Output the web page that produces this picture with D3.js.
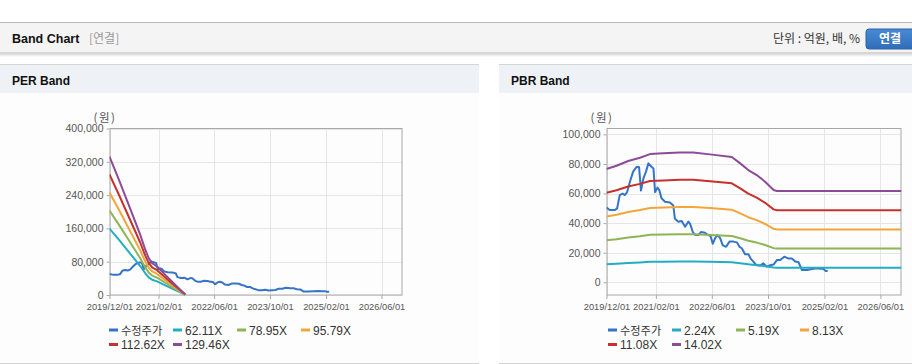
<!DOCTYPE html>
<html>
<head>
<meta charset="utf-8">
<script src="https://cdn.jsdelivr.net/npm/d3@7"></script>
<style>
  body { margin: 0; background: #fff; }
  svg { display: block; font-family: "Liberation Sans", Arial, "Noto Sans CJK KR", sans-serif; }
</style>
</head>
<body>
<svg id="page" width="912" height="364"></svg>
<script>
// 수정주가 (adjusted price)
const priceDates = ["2019-12-01","2019-12-29","2020-02-12","2020-03-02","2020-03-25","2020-04-18","2020-05-08","2020-05-28",
  "2020-06-21","2020-07-19","2020-08-18","2020-09-08","2020-09-25","2020-10-15","2020-11-08","2020-11-28","2020-12-27",
  "2021-01-11","2021-01-25","2021-02-15","2021-03-02","2021-03-22","2021-04-21","2021-06-03","2021-07-02","2021-07-16",
  "2021-08-15","2021-09-13","2021-10-12","2021-11-10","2021-11-25","2021-12-18","2022-01-07","2022-02-06","2022-02-28",
  "2022-04-02","2022-05-01","2022-05-22","2022-06-09","2022-06-29","2022-07-19","2022-08-11","2022-09-04","2022-10-03",
  "2022-11-01","2022-12-06","2023-01-04","2023-01-27","2023-02-16","2023-03-16","2023-04-14","2023-05-04","2023-05-27",
  "2023-06-20","2023-07-24","2023-08-22","2023-09-21","2023-10-20","2023-11-18","2023-12-17","2024-01-15","2024-02-19",
  "2024-03-27","2024-04-25","2024-05-24","2024-06-22","2024-07-21","2024-09-03","2024-10-16","2024-11-29","2024-12-28",
  "2025-01-20","2025-02-10","2025-03-01"];
const priceValues = [50500,48900,48900,50000,59000,60000,59000,61000,
  68000,74800,78000,78000,62000,70000,75000,80400,78000,
  77000,61000,64000,62500,56800,54500,54000,52000,43000,
  41000,41500,37600,41000,39500,34000,32000,32000,34000,
  33500,32000,31000,26000,29700,32000,30000,25000,24000,
  27500,27500,27000,24000,23000,19000,19000,16000,14000,
  11700,11300,12800,10600,11500,12000,15000,15000,17300,
  16000,16000,14000,13500,8300,8300,9000,9500,9200,
  9300,7700,7700];

// EPS behind the PER band lines
const epsDates = ["2019-12-01","2020-02-19","2020-05-15","2020-08-25","2020-10-08","2020-11-07","2020-12-07",
  "2021-01-19","2021-04-01","2021-06-28","2021-09-22"];
const epsValues = [2570,2150,1680,1120,840,684,590,528,373,186,12];
const perMultiples = [62.11, 78.95, 95.79, 112.62, 129.46];

// BPS behind the PBR band lines
const bpsDates = ["2019-12-01","2020-02-26","2020-06-06","2020-09-16","2020-12-12","2021-04-07","2021-08-29",
  "2021-12-22","2022-05-16","2022-11-21","2023-02-02","2023-04-13","2023-06-25","2023-09-06","2023-11-18",
  "2023-12-16","2026-12-01"];
const bpsValues = [5464,5620,5849,6006,6184,6220,6262,6262,6170,6041,5735,5414,5171,4850,4451,4400,4400];
const pbrMultiples = [2.24, 5.19, 8.13, 11.08, 14.02];

const xTickLabels = ["2019/12/01","2021/02/01","2022/06/01","2023/10/01","2025/02/01","2026/06/01"];
const perYTicks = [0, 80000, 160000, 240000, 320000, 400000];
const pbrYTicks = [0, 20000, 40000, 60000, 80000, 100000];

const priceColor = "#3574c6";
const bandColors = ["#22adc2", "#8db553", "#f2a63a", "#c8302c", "#8c4b98"];

const parse = d3.timeParse("%Y-%m-%d");
const parseTick = d3.timeParse("%Y/%m/%d");
const svg = d3.select("#page");
const krFont = "'Noto Sans CJK KR', sans-serif";

// ---------- top bar ----------
const defs = svg.append("defs");
const sh = defs.append("linearGradient").attr("id", "shadow").attr("x1", 0).attr("y1", 0).attr("x2", 0).attr("y2", 1);
sh.append("stop").attr("offset", 0).attr("stop-color", "#000").attr("stop-opacity", 0.18);
sh.append("stop").attr("offset", 1).attr("stop-color", "#000").attr("stop-opacity", 0);
const btn = defs.append("linearGradient").attr("id", "btn").attr("x1", 0).attr("y1", 0).attr("x2", 0).attr("y2", 1);
btn.append("stop").attr("offset", 0).attr("stop-color", "#4a8ad4");
btn.append("stop").attr("offset", 1).attr("stop-color", "#2f6db8");

svg.append("rect").attr("x", 0).attr("y", 53).attr("width", 912).attr("height", 4).attr("fill", "url(#shadow)");
svg.append("rect").attr("x", 0).attr("y", 22).attr("width", 912).attr("height", 31).attr("fill", "#f4f4f4");
svg.append("line").attr("x1", 0).attr("x2", 912).attr("y1", 22.5).attr("y2", 22.5).attr("stroke", "#b8b8b8");
svg.append("line").attr("x1", 0).attr("x2", 912).attr("y1", 52.5).attr("y2", 52.5).attr("stroke", "#d6d6d6");

svg.append("text").attr("x", 12).attr("y", 43).attr("font-size", 12.5).attr("font-weight", "bold")
  .attr("fill", "#111").text("Band Chart");
svg.append("text").attr("x", 89).attr("y", 43).attr("font-size", 12).attr("fill", "#999")
  .style("font-family", krFont).text("[연결]");
svg.append("text").attr("x", 860).attr("y", 43).attr("text-anchor", "end").attr("font-size", 12).attr("fill", "#333")
  .style("font-family", krFont).text("단위 : 억원, 배, %");
svg.append("rect").attr("x", 866).attr("y", 29).attr("width", 52).attr("height", 20).attr("rx", 3)
  .attr("fill", "url(#btn)").attr("stroke", "#2c64a8");
svg.append("text").attr("x", 890).attr("y", 43).attr("text-anchor", "middle").attr("font-size", 12)
  .attr("font-weight", "bold").attr("fill", "#fff")
  .style("font-family", krFont).text("연결");

// ---------- panels ----------
function drawPanel(opt) {
  const g = svg.append("g");
  g.append("rect").attr("x", opt.x).attr("y", 64).attr("width", opt.w).attr("height", 299).attr("fill", "#fdfdfd");
  g.append("rect").attr("x", opt.x).attr("y", 64).attr("width", opt.w).attr("height", 29).attr("fill", "#eef2f7");
  g.append("line").attr("x1", opt.x).attr("x2", opt.x + opt.w).attr("y1", 64.5).attr("y2", 64.5).attr("stroke", "#d4d4d4");
  g.append("line").attr("x1", opt.x).attr("x2", opt.x + opt.w).attr("y1", 363.5).attr("y2", 363.5).attr("stroke", "#d4d4d4");
  g.append("text").attr("x", opt.x + 12).attr("y", 85).attr("font-size", 12).attr("font-weight", "bold")
    .attr("fill", "#111").text(opt.title);

  const x = d3.scaleTime().domain([parse("2019-12-01"), parse("2026-12-01")]).range([opt.left, opt.right]);
  const y = d3.scaleLinear().domain(opt.yDomain).range([295, 128.5]);
  const xTicks = xTickLabels.map(parseTick);

  // grid
  g.append("g").selectAll("line").data(opt.yTicks).join("line")
    .attr("x1", opt.left).attr("x2", opt.right)
    .attr("y1", d => Math.round(y(d)) + 0.5).attr("y2", d => Math.round(y(d)) + 0.5)
    .attr("stroke", "#e6e6e6");
  g.append("g").selectAll("line").data(xTicks).join("line")
    .attr("x1", d => Math.round(x(d)) + 0.5).attr("x2", d => Math.round(x(d)) + 0.5)
    .attr("y1", 128.5).attr("y2", 295)
    .attr("stroke", "#e6e6e6");

  // axes
  const yAxis = g.append("g").attr("transform", `translate(${opt.left},0)`)
    .call(d3.axisLeft(y).tickValues(opt.yTicks).tickFormat(d3.format(",")).tickSize(3).tickPadding(3));
  const xAxis = g.append("g").attr("transform", "translate(0,295)")
    .call(d3.axisBottom(x).tickValues(xTicks).tickFormat(d3.timeFormat("%Y/%m/%d")).tickSize(4).tickPadding(4));
  [yAxis, xAxis].forEach(a => {
    a.select(".domain").remove();
    a.selectAll(".tick line").attr("stroke", "#a8a8a8");
    a.selectAll(".tick text").attr("fill", "#555").style("font-family", "'Liberation Sans', Arial, sans-serif");
  });
  yAxis.selectAll(".tick text").attr("font-size", 10.5);
  xAxis.selectAll(".tick text").attr("font-size", 9.3);

  g.append("rect").attr("x", opt.left + 0.5).attr("y", 128.5).attr("width", opt.right - opt.left - 1)
    .attr("height", 295 - 128.5).attr("fill", "none").attr("stroke", "#a8a8a8");

  g.append("text").attr("x", opt.left - 16).attr("y", 122).attr("font-size", 11.5).attr("fill", "#555")
    .attr("letter-spacing", 1.5).style("font-family", krFont).text("(원)");

  // lines
  const clipId = "clip-" + opt.title.split(" ")[0];
  defs.append("clipPath").attr("id", clipId).append("rect")
    .attr("x", opt.left).attr("y", 128).attr("width", opt.right - opt.left).attr("height", 168);
  const plot = g.append("g").attr("clip-path", `url(#${clipId})`);
  const line = d3.line().x(d => x(d[0])).y(d => y(d[1]));

  const price = priceDates.map((d, i) => [parse(d), priceValues[i]]);
  plot.append("path").datum(price).attr("d", line).attr("fill", "none")
    .attr("stroke", priceColor).attr("stroke-width", 2).attr("stroke-linejoin", "round");

  opt.multiples.forEach((m, k) => {
    const band = opt.baseDates.map((d, i) => [parse(d), opt.baseValues[i] * m]);
    plot.append("path").datum(band).attr("d", line).attr("fill", "none")
      .attr("stroke", bandColors[k]).attr("stroke-width", 2).attr("stroke-linejoin", "round");
  });

  // legend: 4 columns, 2 rows
  const items = [{ label: "수정주가", color: priceColor, kr: true }]
    .concat(opt.multiples.map((m, k) => ({ label: m.toFixed(2) + "X", color: bandColors[k] })));
  const lg = g.append("g");
  items.forEach((it, i) => {
    const col = i % 4, row = Math.floor(i / 4);
    const tx = opt.legendX + col * 64, ty = 330 + row * 14.5;
    lg.append("line").attr("x1", tx - 12).attr("x2", tx - 3).attr("y1", ty).attr("y2", ty)
      .attr("stroke", it.color).attr("stroke-width", 3);
    lg.append("text").attr("x", tx).attr("y", ty + 4.5)
      .attr("font-size", it.kr ? 11.2 : 12).attr("fill", "#333")
      .style("font-family", it.kr ? krFont : "'Liberation Sans', Arial, sans-serif")
      .text(it.label);
  });
}

drawPanel({
  title: "PER Band", x: 0, w: 479, left: 109.5, right: 402.5,
  yDomain: [0, 400000], yTicks: perYTicks,
  baseDates: epsDates, baseValues: epsValues, multiples: perMultiples,
  legendX: 121
});
drawPanel({
  title: "PBR Band", x: 499, w: 413, left: 606.5, right: 901.5,
  yDomain: [-8600, 104000], yTicks: pbrYTicks,
  baseDates: bpsDates, baseValues: bpsValues, multiples: pbrMultiples,
  legendX: 620
});
</script>
</body>
</html>
